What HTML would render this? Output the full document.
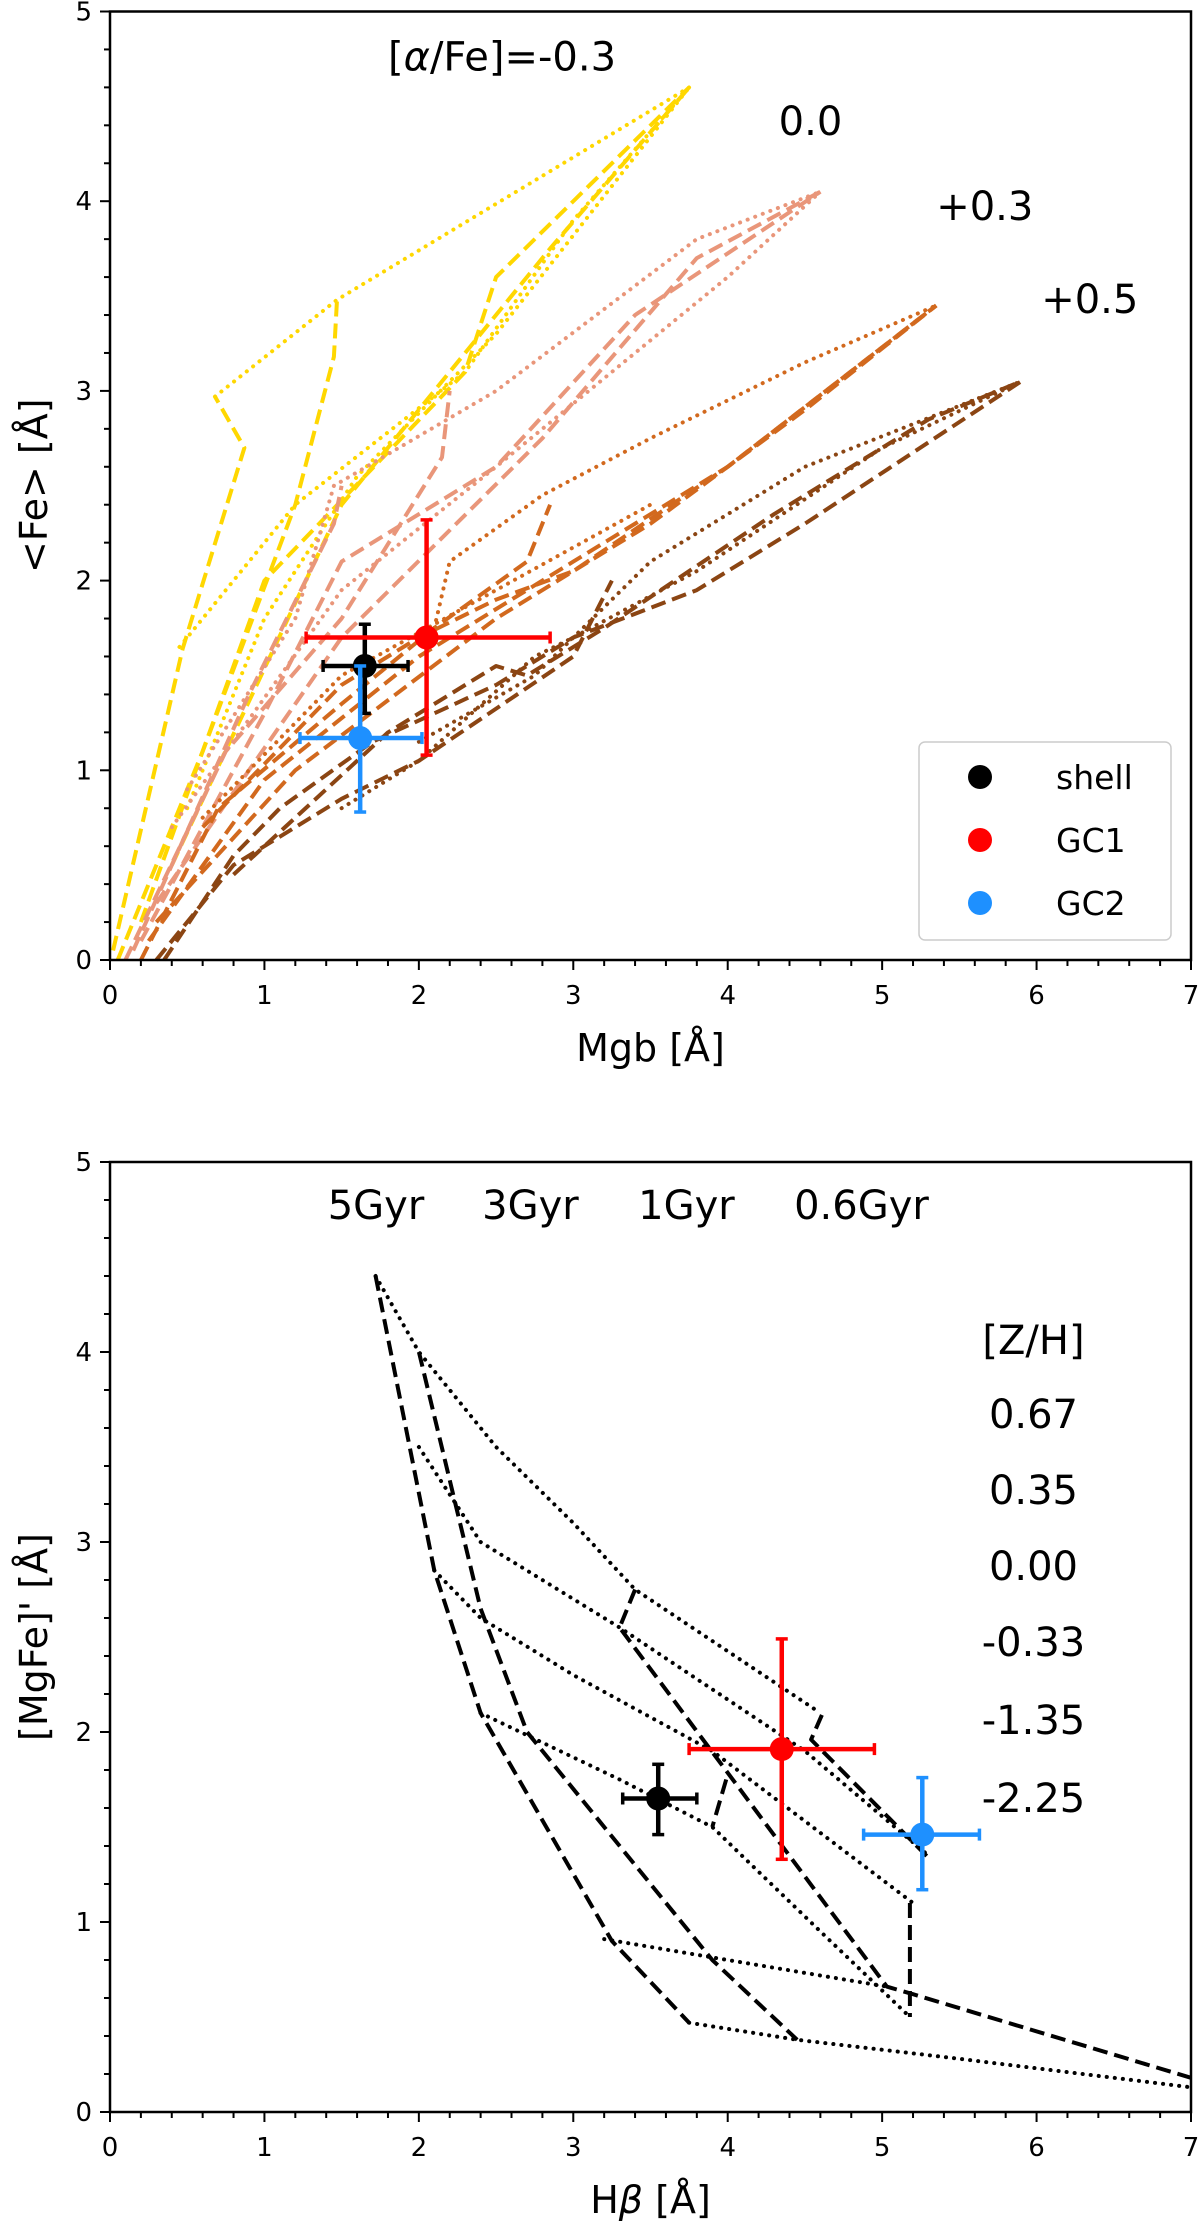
<!DOCTYPE html>
<html><head><meta charset="utf-8"><style>
html,body{margin:0;padding:0;background:#fff;}
svg{display:block;font-family:"DejaVu Sans","Liberation Sans",sans-serif;}
</style></head><body>
<svg id="fig" width="1200" height="2231" viewBox="0 0 1200 2231" xmlns="http://www.w3.org/2000/svg">
<g id="top"></g>
<g id="bot"></g>
</svg>
<script>
// ---------- data: top panel ----------
const alphaColors = ["#FFD700","#E9967A","#D2691E","#8B4513"];
const yellowDashed = [
 [[0.02,0.05],[0.47,1.64],[0.87,2.7],[0.68,2.97]],
 [[0.05,0],[0.6,1.1],[1.2,2.4],[1.45,3.18],[1.47,3.48]],
 [[0.2,0.2],[1.0,2.0],[2.3,3.1],[2.5,3.6],[3.75,4.6]],
 [[0.4,0.5],[1.5,2.4],[2.85,3.75],[3.75,4.6]]
];
const yellowDotted = [
 [[0.45,1.65],[0.9,2.1],[1.2,2.4],[2.3,3.1],[3.0,3.9],[3.75,4.6]],
 [[0.68,2.97],[1.47,3.48],[3.75,4.6]],
 [[0.5,0.8],[1.0,1.8],[1.6,2.55],[2.5,3.3],[3.75,4.6]]
];
const salmonDashed = [
 [[0.1,0],[0.75,1.1],[1.5,1.8],[2.15,2.65],[2.2,3.0]],
 [[0.2,0.1],[1.0,1.3],[1.5,2.1],[2.5,2.6],[3.4,3.4],[4.6,4.05]],
 [[0.3,0.3],[1.5,1.7],[2.8,2.75],[3.8,3.7],[4.6,4.05]],
 [[0.15,0.05],[0.9,1.4],[1.45,2.3],[1.5,2.5]]
];
const salmonDotted = [
 [[0.5,0.9],[1.2,1.8],[1.45,2.5],[2.5,3.0],[3.8,3.8],[4.6,4.05]],
 [[0.4,0.7],[1.5,1.95],[2.5,2.6],[4.0,3.6],[4.6,4.05]]
];
const orangeDashed = [
 [[0.2,0],[0.7,0.8],[1.5,1.35],[2.1,1.75],[2.7,2.1],[2.85,2.4]],
 [[0.3,0.2],[1.2,1.0],[2.5,1.8],[3.5,2.3],[4.5,2.9],[5.35,3.45]],
 [[0.25,0.1],[1.0,0.95],[2.0,1.6],[3.0,2.1],[4.0,2.6],[5.35,3.45]],
 [[0.6,0.7],[1.5,1.45],[2.0,1.7],[2.5,1.9],[3.0,2.05],[4.0,2.6],[5.35,3.45]]
];
const orangeDotted = [
 [[2.1,1.75],[2.2,2.1],[2.8,2.45],[3.5,2.75],[4.5,3.15],[5.35,3.45]],
 [[0.6,0.75],[1.5,1.5],[2.5,1.95],[3.5,2.4]]
];
const brownDashed = [
 [[0.35,0],[0.8,0.55],[1.1,0.8],[1.7,1.15],[2.5,1.45],[3.0,1.7],[3.8,1.95],[4.5,2.3],[5.9,3.05]],
 [[0.3,0],[0.8,0.5],[1.5,0.85],[2.0,1.05],[3.0,1.6],[3.25,2.0]],
 [[0.8,0.45],[1.8,1.2],[2.5,1.55],[2.7,1.5],[3.2,1.75],[4.3,2.35],[5.3,2.85],[5.9,3.05]]
];
const brownDotted = [
 [[1.5,0.8],[2.0,1.05],[2.75,1.6],[3.0,1.7],[3.8,2.05],[5.0,2.7],[5.9,3.05]],
 [[2.0,1.15],[2.75,1.5],[3.5,2.1],[4.5,2.6],[5.9,3.05]]
];
const topNames = ["shell","GC1","GC2"];
const topColors = ["#000000","#FF0000","#1E90FF"];
const topX = [1.65,2.05,1.62];
const topY = [1.55,1.70,1.17];
const topXlo = [1.38,1.27,1.23];
const topXhi = [1.93,2.85,2.02];
const topYlo = [1.30,1.08,0.78];
const topYhi = [1.77,2.32,1.55];
const alphaLabels = ["[<tspan font-style='italic'>α</tspan>/Fe]=-0.3","0.0","+0.3","+0.5"];
const alphaLabelX = [1.80,4.33,5.35,6.03];
const alphaLabelY = [4.69,4.35,3.90,3.41];
const xTicks = [0,1,2,3,4,5,6,7];
const yTicks = [0,1,2,3,4,5];

// ---------- data: bottom panel ----------
const ageDashed = [
 [[1.72,4.4],[2.1,2.85],[2.4,2.1],[3.25,0.9],[3.75,0.47]],
 [[2.0,4.0],[2.4,2.65],[2.7,2.0],[3.9,0.8],[4.45,0.38]],
 [[3.4,2.75],[3.3,2.55],[5.03,0.66],[5.2,0.62],[7.0,0.18]],
 [[4.61,2.09],[4.54,1.96],[5.31,1.33]],
 [[5.18,1.1],[5.18,0.5]],
 [[3.99,1.75],[3.9,1.5]]
];
const zDotted = [
 [[1.72,4.4],[2.0,4.0],[2.5,3.5],[3.0,3.1],[3.4,2.75],[4.6,2.1]],
 [[2.0,3.5],[2.4,3.0],[3.3,2.55],[4.5,1.9],[5.3,1.35]],
 [[2.1,2.85],[2.4,2.6],[3.0,2.3],[3.9,1.9],[5.2,1.1]],
 [[2.4,2.1],[3.3,1.75],[3.9,1.5],[4.6,0.95],[5.18,0.5]],
 [[3.2,0.91],[4.0,0.8],[5.03,0.66]],
 [[3.75,0.47],[4.45,0.38],[5.5,0.28],[7.0,0.13]]
];
const botX = [3.55,4.35,5.26];
const botY = [1.65,1.91,1.46];
const botXlo = [3.32,3.75,4.88];
const botXhi = [3.80,4.95,5.63];
const botYlo = [1.46,1.33,1.17];
const botYhi = [1.83,2.49,1.76];
const ageLabels = ["5Gyr","3Gyr","1Gyr","0.6Gyr"];
const ageLabelX = [1.41,2.41,3.42,4.43];
const zLabels = ["[Z/H]","0.67","0.35","0.00","-0.33","-1.35","-2.25"];
const zLabelY = [3.99,3.60,3.20,2.80,2.40,1.99,1.58];

// ---------- drawing ----------
const NS="http://www.w3.org/2000/svg";
function mk(tag, parent, attrs){const e=document.createElementNS(NS,tag);for(const k in attrs)e.setAttribute(k,attrs[k]);parent.appendChild(e);return e;}
function axes(x0,x1,yT,yB){
  return {sx:v=>x0+(x1-x0)*v/7, sy:v=>yB-(yB-yT)*v/5, x0,x1,yT,yB};
}
const A1 = axes(110,1191,11.5,960);
const A2 = axes(110,1191,1162,2112);

function pathD(A,pts){return pts.map((p,i)=>(i?"L":"M")+A.sx(p[0]).toFixed(1)+","+A.sy(p[1]).toFixed(1)).join(" ");}
function drawLines(g,A,sets,color,style,name){
  sets.forEach(pts=>{
    const p=mk("path",g,{d:pathD(A,pts),fill:"none",stroke:color,"stroke-linejoin":"round"});
    if(style==="dash"){p.setAttribute("stroke-width","4");p.setAttribute("stroke-dasharray","15,7");}
    else{p.setAttribute("stroke-width","4");p.setAttribute("stroke-dasharray","0.1,8");p.setAttribute("stroke-linecap","round");}
    
    
  });
}
function frame(g,A,xlabel,ylabel){
  for(let i=0;i<=35;i++){const v=i/5;const x=A.sx(v);const maj=i%5===0;
    const t=mk("line",g,{x1:x,x2:x,y1:A.yB,y2:A.yB+(maj?10:6),stroke:"#000","stroke-width":2});
    
    }
  for(let i=0;i<=25;i++){const v=i/5;const y=A.sy(v);const maj=i%5===0;
    const t=mk("line",g,{x1:A.x0,x2:A.x0-(maj?10:6),y1:y,y2:y,stroke:"#000","stroke-width":2});
    
    }
  xTicks.forEach(v=>{const t=mk("text",g,{x:A.sx(v),y:A.yB+44,"font-size":26,"text-anchor":"middle"});t.textContent=v;
    
    });
  yTicks.forEach(v=>{const t=mk("text",g,{x:A.x0-18,y:A.sy(v)+9,"font-size":26,"text-anchor":"end"});t.textContent=v;
    
    });
  const xl=mk("text",g,{x:(A.x0+A.x1)/2,y:A.yB+101,"font-size":38,"text-anchor":"middle"});xl.innerHTML=xlabel;
  
  
  const cy=(A.yT+A.yB)/2;
  const yl=mk("text",g,{x:0,y:0,"font-size":38,"text-anchor":"middle",transform:`translate(47,${cy}) rotate(-90)`});yl.innerHTML=ylabel;
  
  
}
function border(g,A){
  const r=mk("rect",g,{x:A.x0,y:A.yT,width:A.x1-A.x0,height:A.yB-A.yT,fill:"none",stroke:"#000","stroke-width":2.5});
  
  
}
function points(g,A,xs,ys,xlo,xhi,ylo,yhi){
  xs.forEach((xv,i)=>{
    const c=topColors[i];
    const grp=mk("g",g,{});
    
    
    const X=A.sx(xv),Y=A.sy(ys[i]);
    const l1=A.sx(xlo[i]),r1=A.sx(xhi[i]),t1=A.sy(yhi[i]),b1=A.sy(ylo[i]);
    mk("line",grp,{x1:l1,x2:r1,y1:Y,y2:Y,stroke:c,"stroke-width":4.5});
    mk("line",grp,{x1:X,x2:X,y1:t1,y2:b1,stroke:c,"stroke-width":4.5});
    [[l1,Y,0],[r1,Y,0],[X,t1,1],[X,b1,1]].forEach(q=>{
      if(q[2]) mk("line",grp,{x1:q[0]-6,x2:q[0]+6,y1:q[1],y2:q[1],stroke:c,"stroke-width":3.5});
      else mk("line",grp,{x1:q[0],x2:q[0],y1:q[1]-6,y2:q[1]+6,stroke:c,"stroke-width":3.5});
    });
    mk("circle",grp,{cx:X,cy:Y,r:12,fill:c});
  });
}

// top
const g1=document.getElementById("top");
drawLines(g1,A1,yellowDashed,alphaColors[0],"dash","alpha-m03-dashed");
drawLines(g1,A1,yellowDotted,alphaColors[0],"dot","alpha-m03-dotted");
drawLines(g1,A1,salmonDashed,alphaColors[1],"dash","alpha-00-dashed");
drawLines(g1,A1,salmonDotted,alphaColors[1],"dot","alpha-00-dotted");
drawLines(g1,A1,orangeDashed,alphaColors[2],"dash","alpha-p03-dashed");
drawLines(g1,A1,orangeDotted,alphaColors[2],"dot","alpha-p03-dotted");
drawLines(g1,A1,brownDashed,alphaColors[3],"dash","alpha-p05-dashed");
drawLines(g1,A1,brownDotted,alphaColors[3],"dot","alpha-p05-dotted");
points(g1,A1,topX,topY,topXlo,topXhi,topYlo,topYhi);
alphaLabels.forEach((s,i)=>{const t=mk("text",g1,{x:A1.sx(alphaLabelX[i]),y:A1.sy(alphaLabelY[i]),"font-size":40});t.innerHTML=s;
  
  });
const lg=mk("g",g1,{});


mk("rect",lg,{x:919,y:742,width:252,height:198,rx:6,fill:"#fff","fill-opacity":0.8,stroke:"#ccc","stroke-width":1.5});
topNames.forEach((n,i)=>{
  const e=mk("g",lg,{});
  
  
  mk("circle",e,{cx:980,cy:777+63*i,r:12,fill:topColors[i]});
  const t=mk("text",e,{x:1056,y:789+63*i,"font-size":33});t.textContent=n;
});
border(g1,A1);
frame(g1,A1,"Mgb [Å]","&lt;Fe&gt; [Å]");

// bottom
const g2=document.getElementById("bot");
drawLines(g2,A2,ageDashed,"#000","dash","age-line");
drawLines(g2,A2,zDotted,"#000","dot","metallicity-line");
points(g2,A2,botX,botY,botXlo,botXhi,botYlo,botYhi);
ageLabels.forEach((s,i)=>{const t=mk("text",g2,{x:A2.sx(ageLabelX[i]),y:A2.sy(4.70),"font-size":40});t.textContent=s;
  
  });
zLabels.forEach((s,i)=>{const t=mk("text",g2,{x:A2.sx(5.98),y:A2.sy(zLabelY[i]),"font-size":40,"text-anchor":"middle"});t.textContent=s;
  
  });
border(g2,A2);
frame(g2,A2,"H<tspan font-style='italic'>β</tspan> [Å]","[MgFe]' [Å]");
</script>
</body></html>
